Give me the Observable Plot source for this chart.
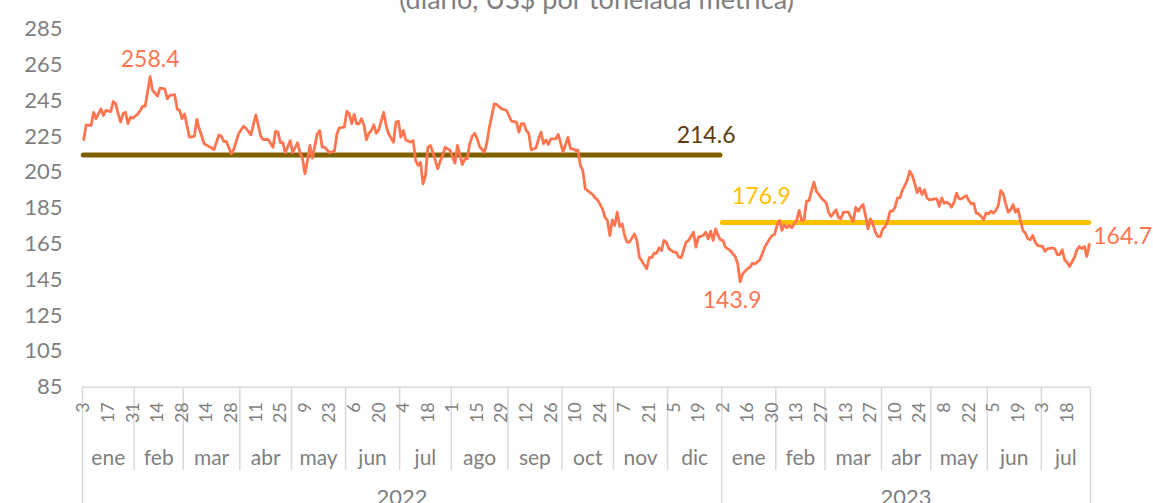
<!DOCTYPE html>
<html><head><meta charset="utf-8">
<script src="https://cdn.jsdelivr.net/npm/d3@7"></script>
<script src="https://cdn.jsdelivr.net/npm/@observablehq/plot@0.6"></script>
<style>body{margin:0;background:#fff;overflow:hidden}</style>
</head><body><div id="chart"></div>
<script>
// Business-day index of each read point (0 = 3 ene 2022) and price (US$/t)
const dayIdx = [0,1,3,4,5,7,8,9,11,12,13,14,15,16,17,18,19,20,22,23,24,25,27,28,30,31,33,34,35,37,38,39,40,41,43,45,46,47,49,51,53,55,56,57,58,60,61,63,65,66,68,70,72,73,75,77,78,79,80,81,82,84,85,87,88,89,90,91,92,93,95,96,97,98,100,102,103,104,106,107,108,109,110,111,112,113,114,115,116,117,118,119,120,122,123,124,126,127,128,129,130,131,133,134,135,136,137,138,139,140,141,142,144,145,146,147,149,151,152,154,155,156,157,158,159,160,161,163,164,165,167,168,170,172,174,176,177,178,179,180,181,182,184,185,186,187,188,189,190,192,193,195,196,197,198,199,200,201,202,203,204,205,207,208,209,211,212,213,214,215,216,217,218,219,220,221,222,224,225,226,227,229,230,231,232,233,234,235,236,237,238,240,241,242,243,245,246,248,249,250,252,253,254,255,256,257,258,259,260,261,263,264,265,266,267,268,269,270,271,272,273,275,276,277,279,280,281,282,283,284,285,286,287,288,289,290,291,292,293,294,295,297,298,299,300,302,303,304,305,306,307,308,309,311,312,313,314,315,316,317,318,319,320,321,322,323,324,325,326,327,328,329,330,331,332,333,334,335,336,337,338,339,340,341,342,343,344,346,347,348,349,350,351,352,353,354,355,356,357,358,359,360,361,362,363,364,365,366,367,368,369,370,371,372,373,374,375,376,377,378,379,380,381,382,383,384,385,386,387,388,390,391,392,394,395,396,397,398,399,400,401,403,404,405,406,407,408,409];
const price = [223.3,231.5,231.1,238.5,234.9,240.4,236.7,239.5,238.9,244.5,243.2,237.7,233.0,237.6,238.5,232.1,235.8,235.2,237.6,239.5,241.9,241.9,258.4,250.7,247.5,252.0,251.6,246.0,247.9,248.3,240.4,239.5,234.9,237.6,224.6,225.1,234.5,229.3,220.9,219.4,217.7,225.9,225.1,222.2,222.2,215.3,217.7,226.5,230.7,229.6,225.9,237.1,225.1,223.3,223.3,219.0,227.8,227.4,221.5,221.5,215.9,222.7,215.9,221.5,215.9,212.5,204.2,211.6,220.0,212.9,226.5,228.3,219.0,219.0,215.9,217.0,226.5,229.8,230.2,239.1,237.6,232.1,237.3,232.1,232.1,234.9,231.1,223.1,226.8,228.3,231.5,226.8,228.7,238.5,231.1,226.5,221.8,233.0,233.5,224.6,228.3,223.1,221.8,222.7,211.6,208.8,210.6,198.6,203.2,219.0,220.0,216.2,206.9,211.2,214.4,219.0,217.2,210.1,220.0,209.3,212.5,212.5,220.9,225.0,226.8,223.7,219.4,216.2,221.8,230.2,243.2,242.8,240.4,239.5,233.5,233.0,227.4,232.1,232.1,228.3,226.8,217.5,218.7,223.7,227.4,220.9,223.1,220.5,223.7,223.7,226.1,216.2,220.5,224.6,218.1,218.1,217.2,217.5,208.8,206.0,195.8,194.8,192.6,190.7,189.6,184.6,179.9,178.1,169.7,178.4,175.3,182.7,174.7,176.2,169.7,166.0,166.0,170.6,166.9,157.6,155.4,151.1,157.3,157.3,159.8,159.8,162.8,161.3,166.9,166.0,162.3,160.4,160.4,157.6,157.3,166.0,166.9,171.5,163.2,168.8,169.7,171.5,167.9,172.1,166.9,173.4,169.7,167.3,166.9,163.2,161.3,159.5,158.0,153.9,143.9,148.3,149.8,151.1,152.0,154.2,153.9,156.1,159.5,163.2,167.9,169.7,170.3,175.3,178.1,172.5,175.8,174.0,175.3,174.0,176.2,178.1,183.7,178.1,178.4,188.9,189.2,199.5,194.4,192.6,190.7,188.0,182.5,180.3,182.2,184.0,179.9,179.0,182.7,182.7,179.9,177.5,185.5,183.3,185.5,187.0,180.9,173.4,179.0,176.2,171.5,169.1,169.1,173.4,174.7,177.7,183.3,183.3,185.5,190.7,190.7,195.2,197.6,200.8,205.6,203.2,198.6,193.6,196.3,192.6,195.2,190.7,189.6,190.2,190.2,185.9,190.7,187.7,188.3,187.4,185.5,188.3,193.3,190.2,190.2,191.1,192.0,189.2,187.4,187.7,182.2,181.8,180.3,178.5,182.2,181.8,183.3,182.2,183.7,186.5,194.8,193.0,187.4,182.7,184.0,187.0,182.7,184.6,178.1,172.5,171.0,167.9,167.3,169.7,166.0,164.1,163.6,160.9,162.3,162.8,162.3,159.1,159.1,161.7,156.1,154.8,152.4,157.6,161.7,163.6,162.3,163.6,158.0,164.7];

// Annual averages
const avgValues = [214.6, 176.9];
const avgLabels = ["214.6", "176.9"];
const avgYears = ["2022", "2023"];

// Axis labels
const yTicks = [85, 105, 125, 145, 165, 185, 205, 225, 245, 265, 285];
const dayTickLabels = ["3","17","31","14","28","14","28","11","25","9","23","6","20","4","18","1","15","29","12","26","10","24","7","21","5","19",
                       "2","16","30","13","27","13","27","10","24","8","22","5","19","3","18"];
const monthNames = ["ene","feb","mar","abr","may","jun","jul","ago","sep","oct","nov","dic"];
const yearNames = ["2022", "2023"];
const subtitle = "(diario, US$ por tonelada métrica)";

// Business-day calendar (category axis)
const calendar = d3.utcDay.range(new Date(Date.UTC(2022,0,3)), new Date(Date.UTC(2023,7,1)))
  .filter(d => d.getUTCDay() !== 0 && d.getUTCDay() !== 6 && +d !== Date.UTC(2023,6,4));
const N = calendar.length;

const months = d3.groups(calendar.map((d,i)=>({d,i})), o => o.d.getUTCFullYear()*12 + o.d.getUTCMonth())
  .map(([k, arr]) => ({start: arr[0].i, end: arr[arr.length-1].i, name: monthNames[arr[0].d.getUTCMonth()], first: arr[0].d.getUTCMonth() === 0}));
const years = d3.groups(calendar.map((d,i)=>({d,i})), o => o.d.getUTCFullYear())
  .map(([k, arr], j) => ({start: arr[0].i, end: arr[arr.length-1].i, name: yearNames[j]}));
const monthBounds = months.filter(m => !m.first).map(m => m.start - 0.5);
const yearBounds = [-0.5, ...years.map(y => y.end + 0.5)];
const dayTicks = dayTickLabels.map((t, k) => ({i: k * 10, t}));
const series = dayIdx.map((d, k) => ({i: d, v: price[k]}));
const avgs = avgValues.map((v, k) => {
  const y = years.find(o => o.name === avgYears[k]);
  return {v, label: avgLabels[k], from: y.start, to: y.end};
});

const gray = "#7f7f7f";
const lineColor = "#FF7550";
const grid = "#d9d9d9";
const ext = (px) => 85 - px / (358.2 / 200); // pixel offset below axis -> data units

const chart = Plot.plot({
  width: 1153, height: 503,
  marginLeft: 82, marginRight: 63, marginTop: 28.5, marginBottom: 116.3,
  style: {fontFamily: "Lato, 'Open Sans', sans-serif", fontSize: "22px", background: "#fff", overflow: "hidden"},
  x: {type: "linear", domain: [-0.5, N - 0.5], axis: null},
  y: {domain: [85, 285], axis: null},
  marks: [
    Plot.ruleX(monthBounds, {x: d => d, y1: 85, y2: ext(83.5), stroke: grid, strokeWidth: 1.5}),
    Plot.ruleX(yearBounds, {x: d => d, y1: 85, y2: ext(120), stroke: grid, strokeWidth: 1.5}),
    Plot.ruleY([85], {stroke: grid, strokeWidth: 1.5}),
    Plot.axisY(yTicks, {tickSize: 0, tickPadding: 20, fontSize: 22, fill: gray, label: null}),
    Plot.text(dayTicks, {x: "i", y: 85, dy: 15, rotate: -90, textAnchor: "end", text: "t", fontSize: 18, fill: gray}),
    Plot.text(months, {x: d => (d.start + d.end) / 2, y: 85, dy: 71.5, text: "name", fontSize: 21, fill: gray}),
    Plot.text(years, {x: d => (d.start + d.end) / 2, y: 85, dy: 111, text: "name", fontSize: 22, fill: gray}),
    Plot.ruleY([avgs[0]], {y: "v", x1: "from", x2: "to", stroke: "#7F6000", strokeWidth: 5, strokeLinecap: "round"}),
    Plot.ruleY([avgs[1]], {y: "v", x1: "from", x2: "to", stroke: "#FFC000", strokeWidth: 5, strokeLinecap: "round"}),
    Plot.line(series, {x: "i", y: "v", stroke: lineColor, strokeWidth: 2.8, strokeLinejoin: "round"}),
    Plot.text([avgs[0]], {x: "to", y: "v", text: "label", textAnchor: "end", dx: 15, dy: -19, fontSize: 23, fill: "#5E3C0E"}),
    Plot.text([avgs[1]], {x: "from", y: "v", text: "label", textAnchor: "start", dx: 9, dy: -26, fontSize: 23, fill: "#FFC000"}),
    Plot.text([series.find(d => d.v === 258.4)], {x: "i", y: "v", text: d => d.v.toFixed(1), dy: -17, fontSize: 23, fill: lineColor}),
    Plot.text([series.find(d => d.v === 143.9)], {x: "i", y: "v", text: d => d.v.toFixed(1), dx: -8, dy: 19, fontSize: 23, fill: lineColor}),
    Plot.text([series[series.length - 1]], {x: "i", y: "v", text: d => d.v.toFixed(1), textAnchor: "start", dx: 4, dy: -8, fontSize: 23, fill: lineColor}),
    Plot.text([subtitle], {text: d => d, frameAnchor: "top", dx: 10, dy: -20, lineAnchor: "bottom", fontSize: 27, fill: gray})
  ]
});
document.getElementById("chart").appendChild(chart);
</script>
</body></html>
